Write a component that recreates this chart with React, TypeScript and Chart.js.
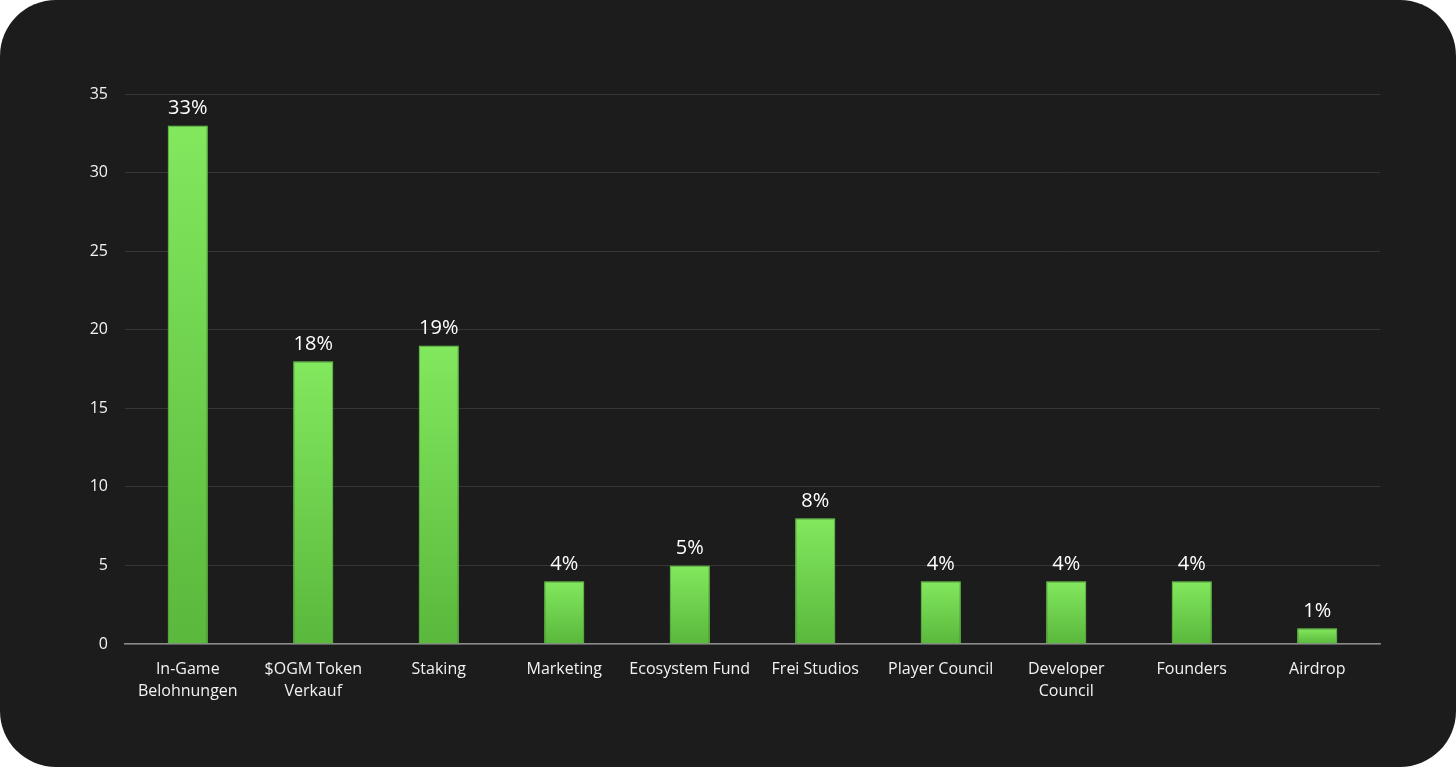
import React, { useEffect, useRef } from "react";
import { Chart, registerables } from "chart.js";

Chart.register(...registerables);

const categories: (string | string[])[] = [
  ["In-Game", "Belohnungen"],
  ["$OGM Token", "Verkauf"],
  "Staking",
  "Marketing",
  "Ecosystem Fund",
  "Frei Studios",
  "Player Council",
  ["Developer", "Council"],
  "Founders",
  "Airdrop",
];
const values: number[] = [33, 18, 19, 4, 5, 8, 4, 4, 4, 1];
const valueLabels: string[] = ["33%", "18%", "19%", "4%", "5%", "8%", "4%", "4%", "4%", "1%"];
const yTicks: number[] = [0, 5, 10, 15, 20, 25, 30, 35];

const FONT = "'Open Sans', 'Noto Sans', sans-serif";

const labelPlugin = {
  id: "valueLabels",
  afterDatasetsDraw(chart: any) {
    const ctx = chart.ctx;
    const meta = chart.getDatasetMeta(0);
    ctx.save();
    ctx.fillStyle = "#ffffff";
    ctx.font = `20px ${FONT}`;
    ctx.textAlign = "center";
    ctx.textBaseline = "middle";
    meta.data.forEach((bar: any, i: number) => {
      ctx.fillText(valueLabels[i], bar.x, bar.y - 17);
    });
    ctx.restore();
  },
};

export default function App() {
  const ref = useRef<HTMLCanvasElement | null>(null);

  useEffect(() => {
    document.body.style.margin = "0";
    if (!ref.current) return;
    const chart = new Chart(ref.current, {
      type: "bar",
      data: {
        labels: categories,
        datasets: [
          {
            data: values,
            backgroundColor: (c: any) => {
              const ch = c.chart;
              const ys = ch.scales?.y;
              if (!ys || typeof c.raw !== "number") return "#6fd24f";
              const top = ys.getPixelForValue(c.raw);
              const bottom = ys.getPixelForValue(0);
              if (!isFinite(top) || !isFinite(bottom) || top === bottom) return "#6fd24f";
              const g = ch.ctx.createLinearGradient(0, top, 0, bottom);
              g.addColorStop(0, "#82e85e");
              g.addColorStop(1, "#5ab83c");
              return g;
            },
            borderColor: "#6cd84a",
            borderWidth: 1,
            barPercentage: 0.64,
            categoryPercentage: 0.5,
          },
        ],
      },
      options: {
        animation: false,
        responsive: false,
        layout: { padding: { top: 94, right: 76, left: 0, bottom: 0 } },
        plugins: {
          legend: { display: false },
          tooltip: { enabled: false },
        },
        scales: {
          x: {
            grid: { display: false, drawTicks: false },
            border: { display: true, color: "#8a8a8a", width: 1.5 },
            ticks: {
              color: "#f2f2f2",
              font: { family: FONT, size: 16, lineHeight: 1.375 },
              padding: 14,
              maxRotation: 0,
              autoSkip: false,
            },
            afterFit: (s: any) => {
              s.height = 123;
            },
          },
          y: {
            min: 0,
            max: 35,
            afterBuildTicks: (s: any) => {
              s.ticks = yTicks.map((v) => ({ value: v }));
            },
            grid: { color: "#363636", lineWidth: 1, drawTicks: false },
            border: { display: false },
            ticks: {
              color: "#f2f2f2",
              font: { family: FONT, size: 16 },
              padding: 17,
            },
            afterFit: (s: any) => {
              s.width = 125;
            },
          },
        },
      },
      plugins: [labelPlugin],
    });
    return () => chart.destroy();
  }, []);

  return (
    <div style={{ position: "fixed", left: 0, top: 0, width: 1456, height: 767, background: "#ffffff" }}>
      <div
        style={{
          position: "absolute",
          left: 0,
          top: 0,
          width: 1456,
          height: 767,
          background: "#1c1c1c",
          borderRadius: 56,
          overflow: "hidden",
        }}
      >
        <canvas ref={ref} width={1456} height={767} style={{ display: "block" }} />
      </div>
    </div>
  );
}
